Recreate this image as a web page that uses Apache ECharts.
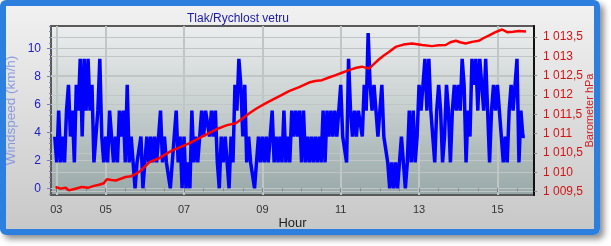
<!DOCTYPE html>
<html><head><meta charset="utf-8">
<script src="https://cdn.jsdelivr.net/npm/echarts@6/dist/echarts.min.js"></script>
<style>
html,body{margin:0;padding:0;background:#fff;}
#frame{position:absolute;left:0;top:0;width:588px;height:223px;border:6px solid #2d7fdf;border-radius:6px;background:linear-gradient(#f1f1f1,#c8c8c8);box-shadow:4px 4px 6px rgba(0,0,0,0.45);}
#c{position:absolute;left:0;top:0;width:611px;height:246px;}
</style>
</head><body><div id="frame"></div><div id="c"></div>
<script>
const chartTitle = 'Tlak/Rychlost vetru';
const xAxisName = 'Hour';
const windAxisName = 'Windspeed (km/h)';
const pressureAxisName = 'Barometer hPa';

// wind speed samples (km/h), one every 3 minutes starting 03:42
const windStartHour = 3.7;
const windStepHour = 0.05;
const windKmh = [
3.7,1.85,5.55,1.85,3.7,1.85,5.55,7.4,3.7,5.55,
1.85,7.4,5.55,9.25,3.7,9.25,5.55,9.25,5.55,7.4,
1.85,1.85,5.55,9.25,3.7,1.85,3.7,1.85,5.55,3.7,
1.85,3.7,1.85,5.55,3.7,5.55,1.85,7.4,1.85,3.7,
1.85,0,1.85,1.85,3.7,0,1.85,3.7,1.85,3.7,
1.85,3.7,1.85,3.7,5.55,1.85,3.7,1.85,1.85,0,
1.85,1.85,5.55,1.85,3.7,0,3.7,0,1.85,0,
5.55,1.85,3.7,1.85,1.85,5.55,3.7,5.55,5.55,3.7,
5.55,3.7,5.55,1.85,0,3.7,1.85,3.7,1.85,0,
3.7,1.85,7.4,5.55,9.25,7.4,3.7,7.4,1.85,3.7,
1.85,1.85,0,1.85,3.7,1.85,3.7,1.85,3.7,1.85,
3.7,5.55,1.85,3.7,1.85,3.7,1.85,5.55,1.85,3.7,
1.85,5.55,3.7,5.55,3.7,5.55,1.85,5.55,1.85,3.7,
1.85,3.7,1.85,3.7,1.85,3.7,1.85,5.55,1.85,5.55,
3.7,5.55,3.7,5.55,3.7,3.7,7.4,3.7,3.7,1.85,
9.25,5.55,3.7,5.55,3.7,5.55,5.55,3.7,7.4,5.55,
11.1,7.4,5.55,7.4,5.55,3.7,5.55,7.4,3.7,3.7,
1.85,0,1.85,0,1.85,0,1.85,3.7,1.85,0,
1.85,5.55,1.85,5.55,1.85,3.7,7.4,5.55,7.4,9.25,
5.55,9.25,5.55,3.7,1.85,5.55,7.4,5.55,1.85,3.7,
7.4,5.55,1.85,5.55,7.4,5.55,7.4,5.55,9.25,7.4,
1.85,5.55,3.7,9.25,7.4,9.25,5.55,9.25,7.4,5.55,
9.25,5.55,1.85,5.55,7.4,5.55,7.4,5.55,3.7,1.85,
3.7,1.85,5.55,7.4,5.55,7.4,9.25,1.85,5.55,3.7,
3.7
];

const pressureHours = [3.72,3.85,3.98,4.06,4.20,4.39,4.55,4.70,4.83,4.95,5.03,5.15,5.26,5.40,5.51,5.65,5.77,5.90,6.00,6.11,6.25,6.36,6.50,6.69,6.90,7.13,7.30,7.46,7.65,7.89,8.10,8.32,8.50,8.66,8.85,9.08,9.30,9.50,9.68,9.94,10.19,10.35,10.52,10.70,10.87,11.05,11.21,11.40,11.54,11.72,11.85,11.98,12.10,12.23,12.40,12.60,12.82,13.08,13.33,13.50,13.68,13.80,13.94,14.05,14.19,14.35,14.53,14.65,14.79,14.95,15.12,15.25,15.40,15.55,15.73];
const pressureHpa = [1009.62,1009.58,1009.60,1009.54,1009.57,1009.62,1009.60,1009.65,1009.68,1009.72,1009.82,1009.80,1009.79,1009.84,1009.88,1009.90,1009.96,1010.05,1010.15,1010.26,1010.32,1010.36,1010.45,1010.56,1010.65,1010.75,1010.84,1010.92,1011.02,1011.14,1011.22,1011.27,1011.40,1011.52,1011.65,1011.78,1011.90,1012.00,1012.10,1012.20,1012.32,1012.36,1012.38,1012.45,1012.51,1012.58,1012.64,1012.70,1012.73,1012.68,1012.80,1012.92,1013.02,1013.11,1013.24,1013.30,1013.33,1013.29,1013.26,1013.28,1013.29,1013.36,1013.40,1013.36,1013.33,1013.37,1013.40,1013.47,1013.54,1013.62,1013.69,1013.62,1013.63,1013.65,1013.64];

const xTickHours = [3.74,5,7,9,11,13,15];
const xTickLabels = ['03','05','07','09','11','13','15'];
const xMinorTickHours = [4,4.5,5,5.5,6,6.5,7,7.5,8,8.5,9,9.5,10,10.5,11,11.5,12,12.5,13,13.5,14,14.5,15,15.5];
const windTicks = [0,2,4,6,8,10];
const windTickLabels = ['0','2','4','6','8','10'];
const pressureTicks = [1009.5,1010,1010.5,1011,1011.5,1012,1012.5,1013,1013.5];
const pressureTickLabels = ['1 009,5','1 010','1 010,5','1 011','1 011,5','1 012','1 012,5','1 013','1 013,5'];

const X_MIN = 3.604, X_MAX = 15.934;
const WIND_MIN = -0.48, WIND_MAX = 11.6;
const P_MIN = 1009.415, P_MAX = 1013.78;

const windMinorTicks = [];
for (let k = -1; k <= 29; k++) windMinorTicks.push(Math.round(k * 0.4 * 100) / 100);

const windData = windKmh.map((v, i) => [Math.round((windStartHour + i * windStepHour) * 1000) / 1000, v]);
const pressureData = pressureHours.map((h, i) => [h, pressureHpa[i]]);

const FONT = 'Liberation Sans';
const chart = echarts.init(document.getElementById('c'), null, {renderer: 'canvas'});
const gridLine = '#c0c5c5';

chart.setOption({
  animation: false,
  backgroundColor: 'transparent',
  title: {
    text: chartTitle, left: 182, top: 8,
    textStyle: {color: '#1a1aa8', fontSize: 12, fontWeight: 'normal', fontFamily: FONT}
  },
  grid: {
    left: 51, right: 77, top: 26, bottom: 51, show: true,
    containLabel: false, outerBoundsMode: 'none',
    borderColor: '#595959', borderWidth: 2,
    backgroundColor: new echarts.graphic.LinearGradient(0, 0, 0, 1, [
      {offset: 0, color: '#eceeee'}, {offset: 0.5, color: '#c6cece'}, {offset: 1, color: '#98a8a8'}
    ])
  },
  xAxis: [{
    type: 'value', min: X_MIN, max: X_MAX, position: 'bottom',
    name: xAxisName, nameLocation: 'middle', nameGap: 22, nameMoveOverlap: false,
    nameTextStyle: {color: '#222', fontSize: 13, fontFamily: FONT},
    axisLine: {show: false},
    axisTick: {show: true, customValues: xTickHours, length: 4, lineStyle: {color: '#777'}},
    axisLabel: {show: true, customValues: xTickHours, margin: 9, color: '#333', fontSize: 11, fontFamily: FONT,
      formatter: v => { const i = xTickHours.findIndex(t => Math.abs(t - v) < 1e-6); return i >= 0 ? xTickLabels[i] : ''; }},
    splitLine: {show: true, lineStyle: {color: gridLine, width: 2}}
  }, {
    type: 'value', min: X_MIN, max: X_MAX, position: 'bottom', gridIndex: 0,
    axisLine: {show: false}, axisLabel: {show: false}, splitLine: {show: false},
    axisTick: {show: true, customValues: xMinorTickHours, length: 3, lineStyle: {color: '#888'}}
  }],
  yAxis: [{
    type: 'value', min: WIND_MIN, max: WIND_MAX, position: 'left',
    name: windAxisName, nameLocation: 'middle', nameGap: 33, nameMoveOverlap: false,
    nameTextStyle: {color: '#8898e0', fontSize: 13.5, fontFamily: FONT},
    axisLine: {show: false},
    axisTick: {show: true, customValues: windTicks, length: 4, lineStyle: {color: '#7878b8'}},
    axisLabel: {show: true, customValues: windTicks, margin: 10, color: '#2020c0', fontSize: 12, fontFamily: FONT,
      formatter: v => { const i = windTicks.findIndex(t => Math.abs(t - v) < 1e-6); return i >= 0 ? windTickLabels[i] : ''; }},
    splitLine: {show: true, lineStyle: {color: gridLine, width: 1}}
  }, {
    type: 'value', min: P_MIN, max: P_MAX, position: 'right',
    name: pressureAxisName, nameLocation: 'middle', nameGap: 50, nameMoveOverlap: false,
    nameTextStyle: {color: '#d02020', fontSize: 11, fontFamily: FONT},
    axisLine: {show: true, lineStyle: {color: '#111', width: 2}},
    axisTick: {show: true, customValues: pressureTicks, length: 3, lineStyle: {color: '#888'}},
    axisLabel: {show: true, customValues: pressureTicks, margin: 9, color: '#d01515', fontSize: 12, fontFamily: FONT,
      formatter: v => { const i = pressureTicks.findIndex(t => Math.abs(t - v) < 1e-6); return i >= 0 ? pressureTickLabels[i] : ''; }},
    splitLine: {show: true, lineStyle: {color: gridLine, width: 1}}
  }, {
    type: 'value', min: WIND_MIN, max: WIND_MAX, position: 'left', gridIndex: 0,
    axisLine: {show: false}, axisLabel: {show: false}, splitLine: {show: false},
    axisTick: {show: true, customValues: windMinorTicks, length: 2, lineStyle: {color: '#8080c0'}}
  }],
  series: [{
    name: 'Windspeed', type: 'line', xAxisIndex: 0, yAxisIndex: 0, data: windData,
    showSymbol: false, symbol: 'none', lineStyle: {color: '#0000ff', width: 3.5}, z: 3
  }, {
    name: 'Barometer', type: 'line', xAxisIndex: 0, yAxisIndex: 1, data: pressureData,
    showSymbol: false, symbol: 'none', lineStyle: {color: '#ff0000', width: 2.5}, z: 4
  }]
});
</script>
</body></html>
